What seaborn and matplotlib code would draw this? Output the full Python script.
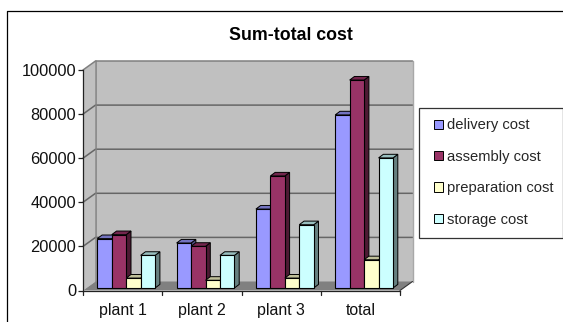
import matplotlib
matplotlib.use("Agg")
import matplotlib.pyplot as plt
from matplotlib.patches import Polygon, Rectangle
from matplotlib.lines import Line2D
from matplotlib.colors import to_rgb
import pandas as pd
import seaborn as sns

plants = ["plant 1", "plant 2", "plant 3", "total"]
delivery_cost = [22400, 20400, 35800, 78500]
assembly_cost = [24200, 18900, 50800, 94300]
preparation_cost = [4500, 3500, 4500, 12800]
storage_cost = [14800, 14800, 28700, 59000]

series_names = ["delivery cost", "assembly cost", "preparation cost", "storage cost"]
series_values = [delivery_cost, assembly_cost, preparation_cost, storage_cost]
series_colors = ["#9999FF", "#993366", "#FFFFCC", "#CCFFFF"]
y_ticks = [0, 20000, 40000, 60000, 80000, 100000]

W, H = 563, 322
sns.set_style("white")
plt.rcParams["font.family"] = ["Liberation Sans", "DejaVu Sans"]

fig = plt.figure(figsize=(W / 100, H / 100), dpi=100, facecolor="white")

# Axes frame in pixels: front-left corner to the far edge of the back wall
left, right, base, top = 83.0, 413.0, 290.5, 61.0
ax = fig.add_axes([left / W, 1 - base / H, (right - left) / W, (base - top) / H])
ax.patch.set_visible(False)

px_per_cat = 79.3
px_per_unit = 220.5 / 100000
first_center = 126.2


def dx(px):
    return px / px_per_cat


def dy(px):
    return px / px_per_unit


frame = pd.DataFrame(
    [
        {"plant": p, "series": name, "cost": v}
        for name, values in zip(series_names, series_values)
        for p, v in zip(plants, values)
    ]
)

sns.barplot(
    data=frame, x="plant", y="cost", hue="series", hue_order=series_names,
    order=plants, palette=series_colors, width=0.729, gap=0, dodge=True,
    saturation=1, errorbar=None, edgecolor="black", linewidth=0.8, ax=ax,
)

ax.set_xlim((left - first_center) / px_per_cat, (right - first_center) / px_per_cat)
ax.set_ylim(0, (base - top) / px_per_unit)
ax.set_xlabel("")
ax.set_ylabel("")

# Bars stand slightly inside the floor, above the front edge of the box
for container in ax.containers:
    for bar in container:
        bar.set_y(dy(2.5))

# Walls and floor of the 3-D box
x0 = ax.get_xlim()[0]
x_front = x0 + dx(400 - left)
depth_x, depth_y = dx(12.5), dy(9)
wall = "#C0C0C0"
line = "#666666"
ax.add_patch(Polygon([(x0, 0), (x0 + depth_x, depth_y),
                      (x0 + depth_x, dy(229.5)), (x0, dy(220.5))],
                     fc=wall, ec="none", zorder=0.1))
ax.add_patch(Polygon([(x0 + depth_x, depth_y), (x_front + depth_x, depth_y),
                      (x_front + depth_x, dy(229.5)), (x0 + depth_x, dy(229.5))],
                     fc=wall, ec="none", zorder=0.1))
ax.add_patch(Polygon([(x0, 0), (x_front, 0), (x_front + depth_x, depth_y),
                      (x0 + depth_x, depth_y)],
                     fc="#808080", ec="none", zorder=0.2))
for v in y_ticks[1:-1]:
    ax.plot([x0, x0 + depth_x, x_front + depth_x],
            [v, v + depth_y, v + depth_y], color=line, lw=1.1, zorder=0.3,
            clip_on=False)
# Outline of the back wall, with a pale right edge
ax.plot([x0, x0 + depth_x, x_front + depth_x],
        [dy(220.5), dy(229.5), dy(229.5)], color="#808080", lw=1.1, zorder=0.3,
        clip_on=False)
ax.plot([x0 + depth_x, x0 + depth_x], [depth_y, dy(229.5)], color="#808080",
        lw=1.1, zorder=0.3, clip_on=False)
ax.plot([x_front + depth_x, x_front + depth_x], [depth_y, dy(229.5)],
        color="#A8A8A8", lw=1.0, zorder=0.3, clip_on=False)
ax.plot([x_front, x_front + depth_x], [0, depth_y], color="#333333", lw=0.8,
        zorder=0.3, clip_on=False)

# Side and top faces of every bar, painted left to right so nearer fronts overlap
side_x, side_y = dx(4.8), dy(3.6)
order = 1.0
for c_index in range(len(plants)):
    for container, color in zip(ax.containers, series_colors):
        bar = container[c_index]
        x, w = bar.get_x(), bar.get_width()
        y0, y1 = bar.get_y(), bar.get_y() + bar.get_height()
        rgb = to_rgb(color)
        side_col = tuple(0.5 * c for c in rgb)
        top_col = tuple(0.75 * c for c in rgb)
        ax.add_patch(Polygon([(x + w, y0), (x + w + side_x, y0 + side_y),
                              (x + w + side_x, y1 + side_y), (x + w, y1)],
                             fc=side_col, ec="black", lw=0.7, zorder=order))
        ax.add_patch(Polygon([(x, y1), (x + w, y1), (x + w + side_x, y1 + side_y),
                              (x + side_x, y1 + side_y)],
                             fc=top_col, ec="black", lw=0.7, zorder=order))
        bar.set_zorder(order + 0.1)
        order += 1

# Axis lines and ticks
sns.despine(ax=ax, top=True, right=True)
for name in ("left", "bottom"):
    ax.spines[name].set_color("#222222")
    ax.spines[name].set_linewidth(0.9)
    ax.spines[name].set_zorder(0.5)
ax.spines["left"].set_bounds(0, 100000)
ax.spines["bottom"].set_bounds(x0, x_front)
ax.set_yticks(y_ticks)
ax.set_yticklabels([str(v) for v in y_ticks])
center_shift = dx(3.6)
ax.set_xticks([i - center_shift for i in range(len(plants))])
ax.set_xticklabels(plants)
ax.tick_params(axis="y", left=True, length=3.5, width=0.9, color="#222222",
               labelsize=11.8, pad=1.5, labelcolor="#111111")
ax.tick_params(axis="x", bottom=False, labelsize=11.4, pad=5.5, labelcolor="#111111")
for i in range(len(plants) + 1):
    xpos = x0 + i * dx(79.25)
    ax.plot([xpos, xpos], [0, -dy(4)], color="#222222", lw=0.9, clip_on=False, zorder=0.5)

# Chart border, cut off by the canvas on the right and at the bottom
fig.add_artist(Line2D([7.5 / W, 7.5 / W, 1], [0, 1 - 11 / H, 1 - 11 / H],
                      color="black", lw=0.9, transform=fig.transFigure))

fig.text(291 / W, 1 - 36 / H, "Sum-total cost", ha="center", va="center",
         fontsize=12.8, fontweight="bold", color="black")

# Legend box
ax.add_patch(Rectangle((418.5 / W, 1 - 238 / H), 144 / W, 130 / H,
                       transform=fig.transFigure, fc="white", ec="#333333",
                       lw=0.9, zorder=900, clip_on=False))
handles, labels = ax.get_legend_handles_labels()
leg = ax.legend(handles, labels, loc="upper left",
                bbox_to_anchor=(431 / W, 1 - 115.5 / H),
                bbox_transform=fig.transFigure, frameon=False, fontsize=10.6,
                handlelength=0.6, handleheight=0.6, handletextpad=0.27,
                labelspacing=1.18, borderpad=0.2, borderaxespad=0)
leg.set_zorder(1000)
for patch in leg.get_patches():
    patch.set_edgecolor("black")
    patch.set_linewidth(0.7)

fig.savefig("out.png", dpi=100, facecolor="white")
